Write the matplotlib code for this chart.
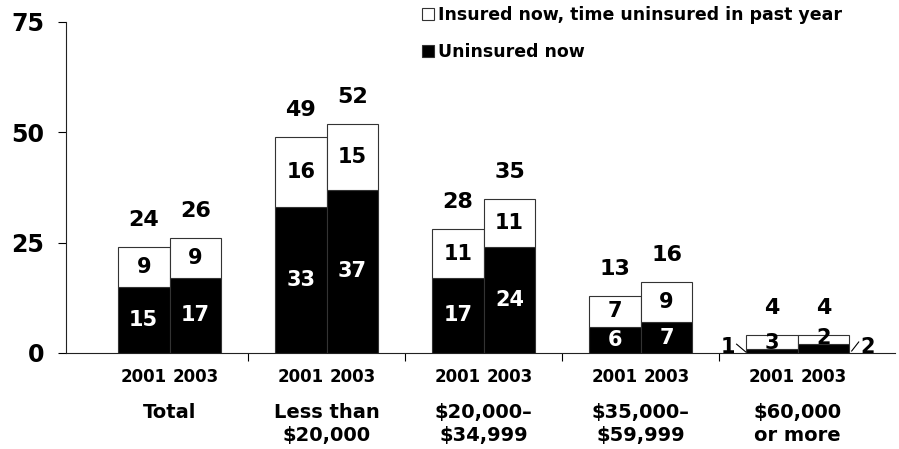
import matplotlib
matplotlib.use("Agg")
import matplotlib.pyplot as plt
import numpy as np

# --- data ---
categories = ["Total", "Less than\n$20,000", "$20,000\u2013\n$34,999",
              "$35,000\u2013\n$59,999", "$60,000\nor more"]
years = ["2001", "2003"]
uninsured_2001 = [15, 33, 17, 6, 1]
uninsured_2003 = [17, 37, 24, 7, 2]
insured_gap_2001 = [9, 16, 11, 7, 3]
insured_gap_2003 = [9, 15, 11, 9, 2]
totals_2001 = [24, 49, 28, 13, 4]
totals_2003 = [26, 52, 35, 16, 4]

plt.rcParams["font.family"] = "DejaVu Sans"
plt.rcParams["font.weight"] = "bold"

fig = plt.figure(figsize=(8.99, 4.49), dpi=100)
ax = fig.add_axes([66 / 899, 96 / 449, (895 - 66) / 899, 331 / 449])

x = np.arange(len(categories))
w = 0.33
offsets = [-w / 2, w / 2]
unins = [uninsured_2001, uninsured_2003]
gaps = [insured_gap_2001, insured_gap_2003]
tots = [totals_2001, totals_2003]

bars_u, bars_g = [], []
for k in range(2):
    bu = ax.bar(x + offsets[k], unins[k], w, color="black", edgecolor="#333333",
                linewidth=0.8, label="Uninsured now")
    bg = ax.bar(x + offsets[k], gaps[k], w, bottom=unins[k], color="white",
                edgecolor="#333333", linewidth=0.8,
                label="Insured now, time uninsured in past year")
    bars_u.append(bu)
    bars_g.append(bg)

    for i in range(len(categories)):
        xi = x[i] + offsets[k]
        ax.annotate(str(tots[k][i]), (xi, tots[k][i]), xytext=(0, 27),
                    textcoords="offset pixels", ha="center", va="center",
                    fontsize=16, fontweight="bold")
        if i == len(categories) - 1:
            continue
        ax.text(xi, unins[k][i] / 2, str(unins[k][i]), ha="center",
                va="center", color="white", fontsize=15, fontweight="bold")
        ax.text(xi, unins[k][i] + gaps[k][i] / 2, str(gaps[k][i]),
                ha="center", va="center", color="black", fontsize=15,
                fontweight="bold")

# last group: tiny segments, labels outside with leader lines
i = len(categories) - 1
ax.text(x[i] + offsets[0], unins[0][i] + gaps[0][i] / 2 - 0.2, str(gaps[0][i]),
        ha="center", va="center", fontsize=15, fontweight="bold")
ax.text(x[i] + offsets[1], unins[1][i] + gaps[1][i] / 2 + 0.4, str(gaps[1][i]),
        ha="center", va="center", fontsize=15, fontweight="bold")
ax.text(x[i] - 0.446, 1.4, str(unins[0][i]), ha="center", va="center",
        fontsize=15, fontweight="bold")
ax.text(x[i] + 0.446, 1.4, str(unins[1][i]), ha="center", va="center",
        fontsize=15, fontweight="bold")
ax.plot([x[i] - 0.389, x[i] - 0.331], [2.0, 0.25], color="black", lw=0.8,
        clip_on=False)
ax.plot([x[i] + 0.344, x[i] + 0.389], [0.45, 2.5], color="black", lw=0.8,
        clip_on=False)

# axes styling
ax.set_xlim(-0.66, 4.62)
ax.set_ylim(0, 75)
ax.set_yticks([0, 25, 50, 75])
ax.tick_params(axis="y", direction="out", length=6, width=0.8, labelsize=17,
               pad=9.5)
for lab in ax.get_yticklabels():
    lab.set_fontweight("bold")

bar_pos = np.concatenate([x + offsets[0], x + offsets[1]])
ax.set_xticks(bar_pos, [years[0]] * len(x) + [years[1]] * len(x),
              fontsize=12, fontweight="bold")
ax.tick_params(axis="x", length=0, pad=11)
ax.set_xticks(x[:-1] + 0.5, minor=True)
ax.tick_params(axis="x", which="minor", direction="out", length=6, width=0.8)

for s in ["top", "right"]:
    ax.spines[s].set_visible(False)
for s in ["left", "bottom"]:
    ax.spines[s].set_linewidth(0.8)
    ax.spines[s].set_color("#222222")

for i, cat in enumerate(categories):
    ax.text(x[i], -0.151, cat, transform=ax.get_xaxis_transform(),
            ha="center", va="top", fontsize=14, fontweight="bold",
            linespacing=1.25)

ax.legend(handles=[bars_g[0], bars_u[0]], loc="upper left",
          bbox_to_anchor=(422 / 899, 1 - 6 / 449),
          bbox_transform=fig.transFigure, frameon=False, borderpad=0,
          borderaxespad=0, handlelength=0.7, handleheight=0.7,
          handletextpad=0.2, labelspacing=1.1,
          prop=dict(size=12.5, weight="bold"))

fig.savefig("out.png", dpi=100)
